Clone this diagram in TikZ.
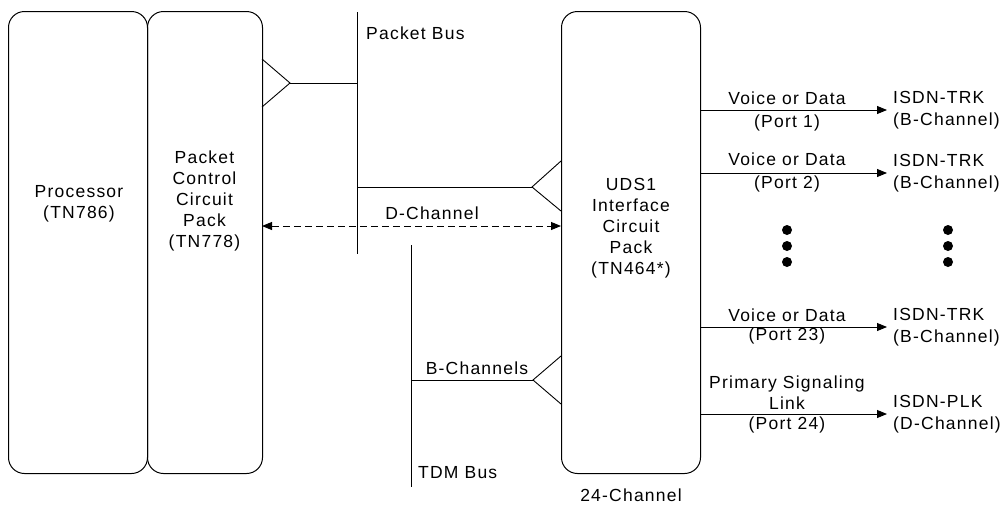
\documentclass[tikz,border=0pt]{standalone}
\usepackage{fontspec}
\setmainfont{Liberation Sans}[LetterSpace=7]
\usetikzlibrary{arrows.meta}
\begin{document}
\begin{tikzpicture}[x=1pt,y=-1pt,
  box/.style={draw, line width=1pt, rounded corners=16pt, inner sep=0pt, anchor=north west},
  txt/.style={font=\fontsize{17.5}{21}\selectfont, align=center, inner sep=0pt},
  ln/.style={line width=0.9pt},
  arr/.style={ln, -{Triangle[length=10pt,width=8pt]}}]
\useasboundingbox (0,0) rectangle (1005,504);
% boxes
\node[box, minimum width=139pt, minimum height=462pt] (proc) at (8,11) {};
\node[box, minimum width=115pt, minimum height=462pt] (pccp) at (147,11) {};
\node[box, minimum width=139pt, minimum height=462pt] (uds) at (561,11) {};
\node[txt] (proct) at (79,203.5) {Processor\\(TN786)};
\node[txt] (pcct) at (204.5,201) {Packet\\Control\\Circuit\\Pack\\(TN778)};
\node[txt] (udst) at (631,228) {UDS1\\Interface\\Circuit\\Pack\\(TN464*)};
\node[txt] (ch24) at (631,495) {24-Channel};
% packet bus
\coordinate (pbtop) at (357,12);
\coordinate (pbbot) at (357,254);
\draw[ln] (pbtop) -- (pbbot);
\node[txt, anchor=west] (pbl) at (366,33) {Packet Bus};
% triangle from PCCP
\coordinate (t1a) at (262,59);
\coordinate (t1) at (290,83);
\coordinate (t1b) at (262,107);
\draw[ln] (t1a) -- (t1) -- (t1b);
\draw[ln] (t1) -- (t1 -| pbtop);
% triangle into UDS1 from packet bus
\coordinate (t2a) at (561,161);
\coordinate (t2) at (532,187);
\coordinate (t2b) at (561,211);
\draw[ln] (t2a) -- (t2) -- (t2b);
\draw[ln] (t2) -- (t2 -| pbtop);
% D-channel
\coordinate (dl) at (262,226);
\coordinate (dr) at (561,226);
\draw[ln, dash pattern=on 7pt off 4pt, {Triangle[length=10pt,width=8pt]}-{Triangle[length=10pt,width=8pt]}] (dl) -- (dr);
\node[txt] (dcl) at (432,213) {D-Channel};
% TDM bus
\coordinate (tdtop) at (411,245);
\coordinate (tdbot) at (411,487);
\draw[ln] (tdtop) -- (tdbot);
\node[txt, anchor=west] (tdl) at (418,473) {TDM Bus};
\coordinate (t3a) at (561,356);
\coordinate (t3) at (533,380);
\coordinate (t3b) at (561,404);
\draw[ln] (t3a) -- (t3) -- (t3b);
\draw[ln] (t3) -- (t3 -| tdtop);
\node[txt] (bcl) at (477,368) {B-Channels};
% outputs
\tikzset{isdn/.style={txt, anchor=west, align=left, inner xsep=6pt, font=\fontsize{17.5}{22}\selectfont}}
\node[isdn] (o1) at (887,110) {ISDN-TRK\\(B-Channel)};
\node[isdn] (o2) at (887,173) {ISDN-TRK\\(B-Channel)};
\node[isdn] (o3) at (887,327) {ISDN-TRK\\(B-Channel)};
\node[isdn] (o4) at (887,414) {ISDN-PLK\\(D-Channel)};
\draw[arr] (uds.east |- o1.west) -- (o1.west);
\draw[arr] (uds.east |- o2.west) -- (o2.west);
\draw[arr] (uds.east |- o3.west) -- (o3.west);
\draw[arr] (uds.east |- o4.west) -- (o4.west);
\node[txt] (l1a) at (787,98) {Voice or Data};
\node[txt] (l1b) at (787,123) {(Port 1)};
\node[txt] (l2a) at (787,159) {Voice or Data};
\node[txt] (l2b) at (787,184) {(Port 2)};
\node[txt] (l3a) at (787,315) {Voice or Data};
\node[txt] (l3b) at (787,336) {(Port 23)};
\node[txt] (l4a) at (787,393) {Primary Signaling\\Link};
\node[txt] (l4b) at (787,425) {(Port 24)};
% dots
\foreach \yy in {230,246,262} {
  \fill (787,\yy) circle (5);
  \fill (948,\yy) circle (5);
}
\end{tikzpicture}
\end{document}
